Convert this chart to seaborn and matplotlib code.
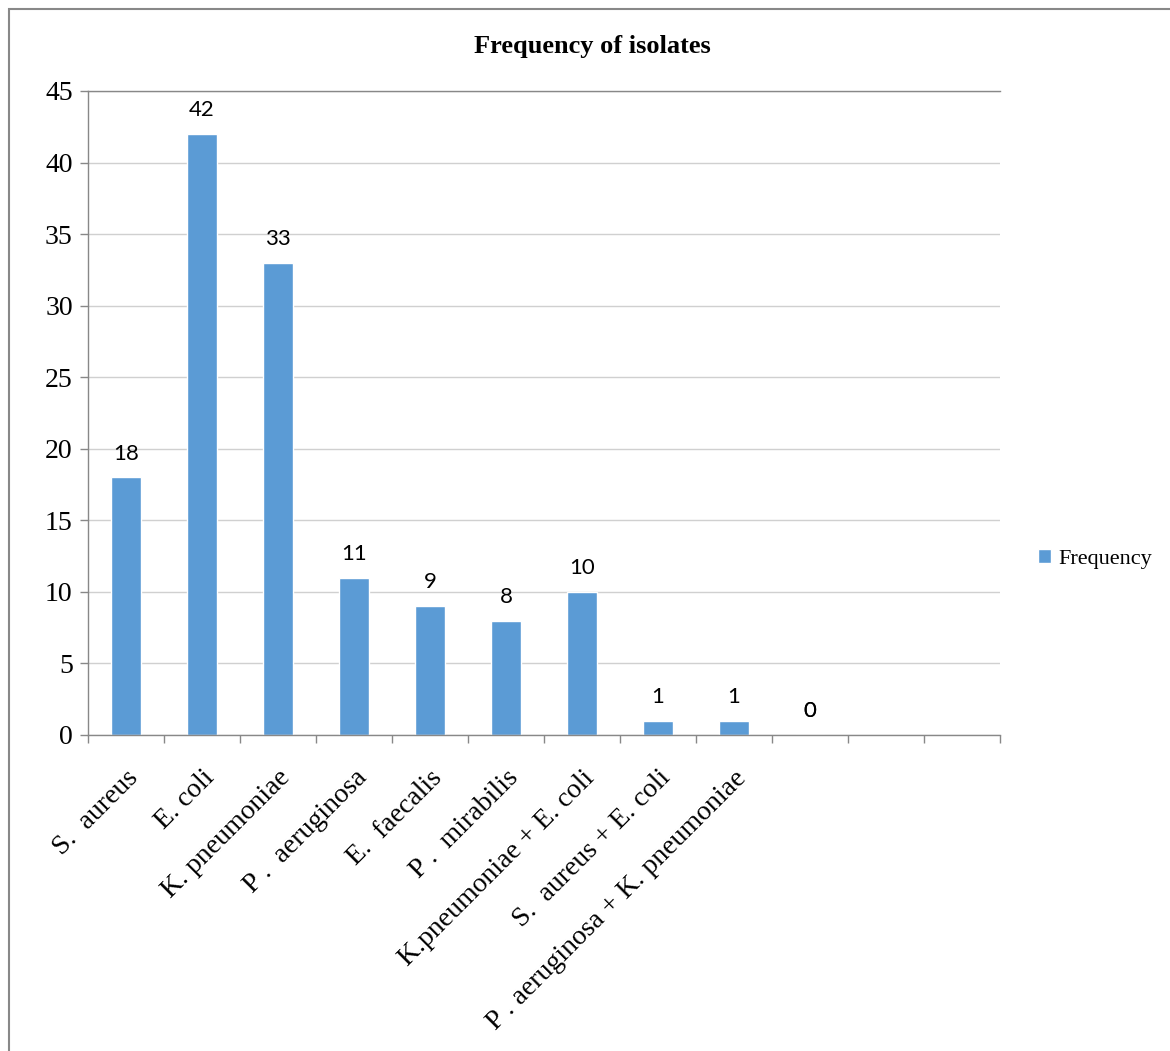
import matplotlib
matplotlib.use("Agg")
import matplotlib.pyplot as plt
from matplotlib.patches import Rectangle
import numpy as np
import pandas as pd
import seaborn as sns

# data
slots = ["s01", "s02", "s03", "s04", "s05", "s06", "s07", "s08", "s09", "s10", "s11", "s12"]
tick_labels = [
    "S.  aureus",
    "E. coli",
    "K. pneumoniae",
    "P .  aeruginosa",
    "E.  faecalis",
    "P .  mirabilis",
    "K.pneumoniae + E. coli",
    "S.  aureus + E. coli",
    "P . aeruginosa + K. pneumoniae",
    "",
    "",
    "",
]
frequency = [18, 42, 33, 11, 9, 8, 10, 1, 1, 0, np.nan, np.nan]
y_ticks = [0, 5, 10, 15, 20, 25, 30, 35, 40, 45]

df = pd.DataFrame({"slot": slots, "Frequency": frequency})

sns.set_theme(style="white")
plt.rcParams["font.family"] = ["Liberation Serif", "DejaVu Serif"]
plt.rcParams["text.color"] = "black"
plt.rcParams["xtick.labelcolor"] = "black"
plt.rcParams["ytick.labelcolor"] = "black"
label_font = ["Lato", "DejaVu Sans"]

W, H = 1170, 1051
fig = plt.figure(figsize=(W / 100, H / 100), dpi=100)
ax = fig.add_axes([88 / W, 1 - 735 / H, (1000 - 88) / W, (735 - 91) / H])

sns.barplot(
    data=df.dropna(),
    x="slot",
    y="Frequency",
    order=slots,
    color="#5B9BD5",
    saturation=1,
    width=0.4,
    label="Frequency",
    ax=ax,
)

# data labels
for c in ax.containers:
    ax.bar_label(c, fmt="%g", padding=10, fontsize=16, family=label_font, color="black")
# the zero-value slot still gets its label
ax.annotate("0", xy=(9, 0), xytext=(0, 10), textcoords="offset points",
            ha="center", va="bottom", fontsize=16, family=label_font, color="black")

ax.set_xlim(-0.5, len(slots) - 0.5)
ax.set_ylim(0, 45)
ax.set_yticks(y_ticks)
ax.set_xticks(range(len(slots)))
ax.set_xticklabels(tick_labels, rotation=45, ha="right", va="top",
                   rotation_mode="anchor", fontsize=20)
ax.set_xticks(np.arange(-0.5, len(slots), 1), minor=True)
ax.tick_params(axis="x", which="major", length=0, pad=22)
ax.tick_params(axis="x", which="minor", length=6, width=1, color="#888888", direction="out")
ax.tick_params(axis="y", length=6, width=1, color="#888888", direction="out", labelsize=20, pad=5)
ax.tick_params(bottom=True, left=True, which="both")
ax.set_xlabel("")
ax.set_ylabel("")

ax.yaxis.grid(True, color="#d0d0d0", linewidth=1)
ax.set_axisbelow(True)
for s in ["left", "bottom", "top"]:
    ax.spines[s].set_visible(True)
    ax.spines[s].set_color("#888888")
    ax.spines[s].set_linewidth(1)
ax.spines["right"].set_visible(False)

fig.text(592 / W, 1 - 46 / H, "Frequency of isolates", ha="center", va="center",
         fontsize=19, fontweight="bold")

ax.legend(loc="center left", bbox_to_anchor=(1018 / W, 1 - 559 / H),
          bbox_transform=fig.transFigure, frameon=False, fontsize=16,
          handlelength=0.6, handleheight=0.6, handletextpad=0.3)

# outer chart frame
fig.patches.append(Rectangle((9 / W, -0.1), 1.2, 1.1 - 9 / H, transform=fig.transFigure,
                             fill=False, edgecolor="#888888", linewidth=1.5))

fig.savefig("out.png", dpi=100)
